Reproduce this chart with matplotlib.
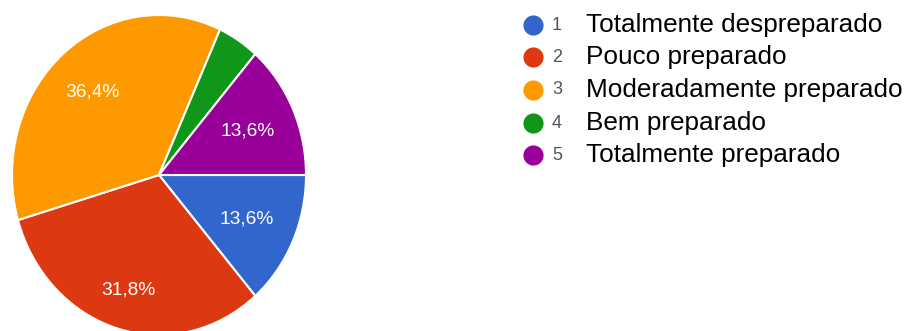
import numpy as np
import matplotlib.pyplot as plt

plt.rcParams["font.family"] = ["Liberation Sans", "DejaVu Sans"]

# Data
codes = ["1", "2", "3", "4", "5"]
labels = ["Totalmente despreparado", "Pouco preparado", "Moderadamente preparado",
          "Bem preparado", "Totalmente preparado"]
counts = [3, 7, 8, 1, 3]
colors = ["#3366cc", "#dc3912", "#ff9900", "#109618", "#990099"]
label_dist = [0.655, 0.75, 0.69, 0.7, 0.665]

W, H = 908, 331
fig = plt.figure(figsize=(W / 100, H / 100), dpi=100)

# pie is slightly stretched vertically in the reference
left, top, pw, ph = 12, 15, 294, 320
pax = fig.add_axes([left / W, (H - top - ph) / H, pw / W, ph / H])
wedges, _ = pax.pie(counts, colors=colors, startangle=0, counterclock=False,
                    radius=1, frame=True,
                    wedgeprops=dict(edgecolor="white", linewidth=1.5))
pax.set_aspect("auto")
pax.set_xlim(-1, 1)
pax.set_ylim(-1, 1)
pax.axis("off")

total = sum(counts)
for w, c, d in zip(wedges, counts, label_dist):
    pct = c / total * 100
    if pct < 5:
        continue
    mid = np.deg2rad((w.theta1 + w.theta2) / 2)
    pax.text(d * np.cos(mid), d * np.sin(mid),
             f"{pct:.1f}%".replace(".", ","), color="white", fontsize=13.8,
             ha="center", va="center")

# Legend
ax = fig.add_axes([0, 0, 1, 1])
ax.set_xlim(0, W)
ax.set_ylim(0, H)
ax.axis("off")
rows_y = [25, 57, 90, 123, 155]
for code, lab, col, y in zip(codes, labels, colors, rows_y):
    ax.plot(533, H - y, "o", color=col, markersize=14.5, markeredgewidth=0)
    ax.text(557, H - y, code, color="#555555", fontsize=13, ha="center", va="center")
    ax.text(586, H - y, lab, color="black", fontsize=18.8, ha="left", va="center")

fig.savefig("out.png", dpi=100)
